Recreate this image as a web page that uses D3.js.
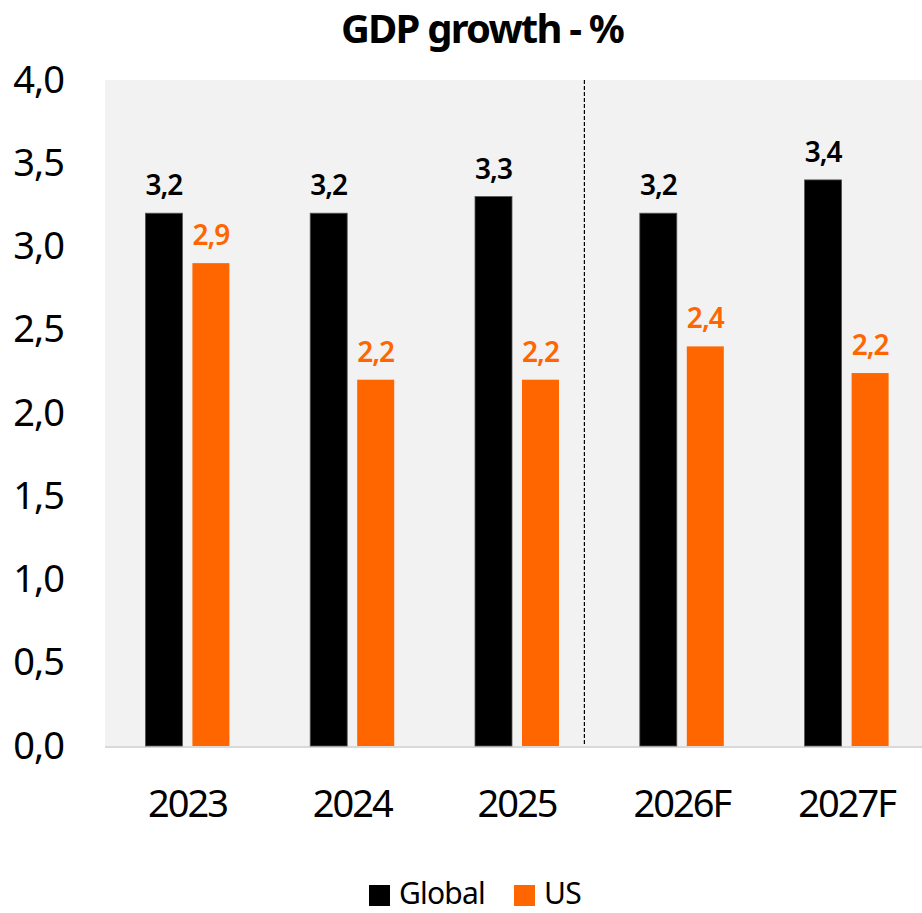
<!DOCTYPE html>
<html>
<head>
	<meta charset="UTF-8" />
	<title>GDP growth - %</title>
	<script src="https://d3js.org/d3.v7.min.js"></script>
	<style>
		body { margin: 0; background: #fff; }
		svg text { font-family: 'Noto Sans', sans-serif; }
	</style>
</head>
<body>
	<div id="main"></div>
	<script type="text/javascript">
		var categories = ['2023', '2024', '2025', '2026F', '2027F'];
		var seriesNames = ['Global', 'US'];
		var globalValues = [3.2, 3.2, 3.3, 3.2, 3.4];
		var usValues = [2.9, 2.2, 2.2, 2.4, 2.24];
		var yTicks = [0, 0.5, 1, 1.5, 2, 2.5, 3, 3.5, 4];
		var colors = { Global: '#000000', US: '#ff6600' };

		var width = 922, height = 913;
		var svg = d3.select('#main').append('svg').attr('width', width).attr('height', height);

		var locale = d3.formatLocale({ decimal: ',', thousands: '.', grouping: [3], currency: ['', '€'] });
		var fmt = locale.format('.1f');

		var x0 = d3.scaleBand().domain(categories).range([105, 929]).padding(0);
		var x1 = d3.scaleBand().domain(seriesNames).range([-42, 42]).paddingInner(0.2128);
		var y = d3.scaleLinear().domain([0, 4]).range([746, 80]);

		// plot background
		svg.append('rect')
			.attr('x', x0.range()[0]).attr('y', y(4))
			.attr('width', x0.range()[1] - x0.range()[0]).attr('height', y(0) - y(4))
			.attr('fill', '#f2f2f2');

		// base line
		svg.append('line')
			.attr('x1', x0.range()[0]).attr('x2', x0.range()[1])
			.attr('y1', y(0) + 1).attr('y2', y(0) + 1)
			.attr('stroke', '#d9d9d9').attr('stroke-width', 2);

		// forecast separator
		var sepX = x0('2026F') - 15;
		svg.append('line')
			.attr('x1', sepX).attr('x2', sepX)
			.attr('y1', y(4)).attr('y2', y(0))
			.attr('stroke', '#000').attr('stroke-width', 1.2)
			.attr('stroke-dasharray', '4,2');

		// y axis labels
		var yAxis = d3.axisLeft(y).tickValues(yTicks).tickFormat(fmt).tickSize(0).tickPadding(0);
		var yg = svg.append('g').attr('transform', 'translate(64,0)').call(yAxis);
		yg.select('.domain').remove();
		yg.selectAll('text').attr('font-size', 38).attr('fill', '#000')
			.attr('font-family', 'Noto Sans').attr('letter-spacing', '-1px');

		// x axis labels
		var xAxis = d3.axisBottom(x0).tickSize(0).tickPadding(0);
		var xg = svg.append('g').attr('transform', 'translate(0,' + 790 + ')').call(xAxis);
		xg.select('.domain').remove();
		xg.selectAll('text').attr('font-size', 38).attr('fill', '#000').attr('dy', '0.71em')
			.attr('font-family', 'Noto Sans').attr('letter-spacing', '-2px');

		var rows = categories.map(function (c, i) {
			return { cat: c, values: [{ key: 'Global', v: globalValues[i] }, { key: 'US', v: usValues[i] }] };
		});

		var groups = svg.selectAll('.grp').data(rows).enter().append('g')
			.attr('class', 'grp')
			.attr('transform', d => 'translate(' + (x0(d.cat) + x0.bandwidth() / 2) + ',0)');

		groups.selectAll('rect').data(d => d.values).enter().append('rect')
			.attr('x', d => x1(d.key))
			.attr('y', d => y(d.v))
			.attr('width', x1.bandwidth())
			.attr('height', d => y(0) - y(d.v))
			.attr('fill', d => colors[d.key])
			.attr('stroke', d => d.key === 'Global' ? '#555' : 'none')
			.attr('stroke-width', 0.8);

		groups.selectAll('text').data(d => d.values).enter().append('text')
			.attr('x', d => x1(d.key) + x1.bandwidth() / 2)
			.attr('y', d => y(d.v) - 18)
			.attr('text-anchor', 'middle')
			.attr('font-size', 28).attr('font-weight', 600)
			.attr('letter-spacing', '-1px')
			.attr('fill', d => colors[d.key])
			.text(d => fmt(d.v));

		// title
		svg.append('text').attr('x', 482).attr('y', 43)
			.attr('text-anchor', 'middle').attr('font-size', 40).attr('font-weight', 700)
			.attr('letter-spacing', '-1.8px')
			.text('GDP growth - %');

		// legend
		var legend = svg.append('g').attr('transform', 'translate(369,885)');
		var legendX = d3.scaleOrdinal().domain(seriesNames).range([0, 145]);
		var li = legend.selectAll('g').data(seriesNames).enter().append('g')
			.attr('transform', d => 'translate(' + legendX(d) + ',0)');
		li.append('rect').attr('width', 21).attr('height', 21).attr('fill', d => colors[d]);
		li.append('text').attr('x', 30).attr('y', 19).attr('font-size', 30)
			.attr('letter-spacing', '-0.8px').attr('fill', '#000').text(d => d);
	</script>
</body>
</html>
